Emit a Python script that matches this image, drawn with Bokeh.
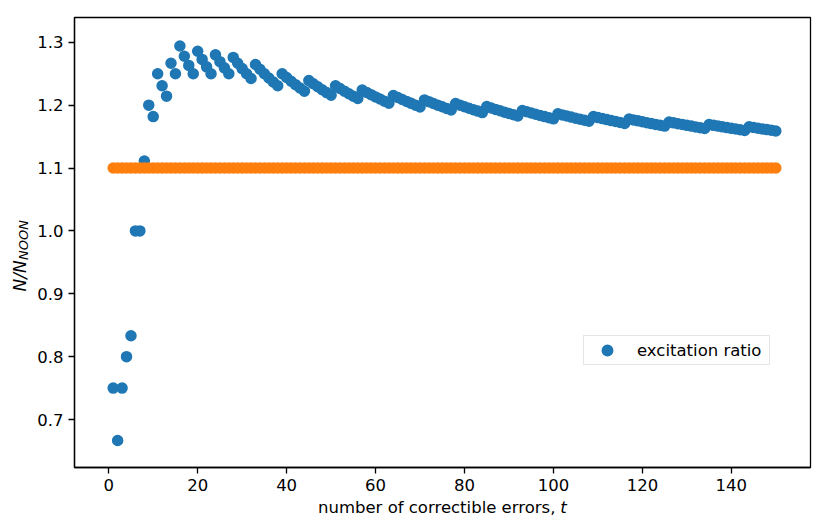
from bokeh.plotting import figure
from bokeh.layouts import row, column
from bokeh.models import (Label, Legend, LegendItem, FixedTicker, ColumnDataSource, Range1d)
from bokeh.embed import file_html
from bokeh.resources import INLINE

# ---------------- data ----------------
t_values = list(range(1, 151))
excitation_ratio = [
    0.75, 0.6667, 0.75, 0.8, 0.8333, 1.0, 1.0, 1.1111, 1.2, 1.1818,
    1.25, 1.2308, 1.2143, 1.2667, 1.25, 1.2941, 1.2778, 1.2632, 1.25, 1.2857,
    1.2727, 1.2609, 1.25, 1.28, 1.2692, 1.2593, 1.25, 1.2759, 1.2667, 1.2581,
    1.25, 1.2424, 1.2647, 1.2571, 1.25, 1.2432, 1.2368, 1.2308, 1.25, 1.2439,
    1.2381, 1.2326, 1.2273, 1.2222, 1.2391, 1.2340, 1.2292, 1.2245, 1.22, 1.2157,
    1.2308, 1.2264, 1.2222, 1.2182, 1.2143, 1.2105, 1.2241, 1.2203, 1.2167, 1.2131,
    1.2097, 1.2063, 1.2031, 1.2154, 1.2121, 1.2090, 1.2059, 1.2029, 1.2, 1.1972,
    1.2083, 1.2055, 1.2027, 1.2, 1.1974, 1.1948, 1.1923, 1.2025, 1.2, 1.1975,
    1.1951, 1.1928, 1.1905, 1.1882, 1.1977, 1.1954, 1.1932, 1.1910, 1.1889, 1.1868,
    1.1848, 1.1828, 1.1915, 1.1895, 1.1875, 1.1856, 1.1837, 1.1818, 1.18, 1.1782,
    1.1863, 1.1845, 1.1827, 1.1810, 1.1792, 1.1776, 1.1759, 1.1743, 1.1818, 1.1802,
    1.1786, 1.1770, 1.1754, 1.1739, 1.1724, 1.1709, 1.1780, 1.1765, 1.175, 1.1736,
    1.1721, 1.1707, 1.1694, 1.168, 1.1667, 1.1732, 1.1719, 1.1705, 1.1692, 1.1679,
    1.1667, 1.1654, 1.1642, 1.1630, 1.1691, 1.1679, 1.1667, 1.1655, 1.1643, 1.1631,
    1.1620, 1.1608, 1.1597, 1.1655, 1.1644, 1.1633, 1.1622, 1.1611, 1.16, 1.1589,
]
reference_ratio = [1.1] * 150

x_ticks = [0, 20, 40, 60, 80, 100, 120, 140]
y_ticks = [0.7, 0.8, 0.9, 1.0, 1.1, 1.2, 1.3]
y_tick_labels = ["0.7", "0.8", "0.9", "1.0", "1.1", "1.2", "1.3"]
legend_label = "excitation ratio"
xlabel_main = "number of correctible errors,"
xlabel_var = "t"
ylabel_main = "N/N"
ylabel_sub = "NOON"

# ---------------- layout sizes (px) ----------------
TOTAL_W, TOTAL_H = 815, 515
YLAB_W = 34
MAIN_W, MAIN_H = TOTAL_W - YLAB_W, 497
XLAB_H = TOTAL_H - MAIN_H

X0, X1 = -7.7, 157.8
Y0, Y1 = 0.6237, 1.3394
FONT = "DejaVu Sans"
FS = "16.5px"

# ---------------- main figure ----------------
p = figure(width=MAIN_W, height=MAIN_H, output_backend="svg", toolbar_location=None,
           x_range=Range1d(X0, X1), y_range=Range1d(Y0, Y1),
           min_border_left=73 - YLAB_W, min_border_right=5, min_border_top=17,
           min_border_bottom=MAIN_H - 467)
p.grid.visible = False
p.outline_line_color = "black"
p.outline_line_width = 1.3
p.outline_line_alpha = 1.0

p.xaxis.ticker = FixedTicker(ticks=x_ticks)
p.yaxis.ticker = FixedTicker(ticks=y_ticks)
p.yaxis.major_label_overrides = {v: s for v, s in zip(y_ticks, y_tick_labels)}
for ax in (p.xaxis, p.yaxis):
    ax.axis_line_color = "black"
    ax.axis_line_width = 1.3
    ax.major_tick_line_color = "black"
    ax.major_tick_line_width = 1.3
    ax.major_tick_in = 0
    ax.major_tick_out = 6
    ax.minor_tick_line_color = None
    ax.major_label_text_font = FONT
    ax.major_label_text_font_size = FS
    ax.major_label_text_color = "black"
    ax.major_label_standoff = 5
    ax.axis_label = None

src_b = ColumnDataSource(dict(t=t_values, r=excitation_ratio))
src_o = ColumnDataSource(dict(t=t_values, r=reference_ratio))
rb = p.scatter("t", "r", source=src_b, size=10, line_width=1.5, color="#1f77b4")
ro = p.scatter("t", "r", source=src_o, size=10, line_width=1.5, color="#ff7f0e")

legend = Legend(items=[LegendItem(label=legend_label, renderers=[rb])],
                location=(509, 102), padding=0, margin=0,
                glyph_width=46, glyph_height=26, label_height=28,
                label_standoff=7, label_width=132,
                border_line_color="#cccccc", border_line_width=1,
                background_fill_color="white", background_fill_alpha=0.8,
                label_text_font=FONT, label_text_font_size=FS,
                label_text_color="black")
p.add_layout(legend)


def blank(width, height, x_start, x_end, y_top, y_bottom):
    f = figure(width=width, height=height, output_backend="svg", toolbar_location=None,
               x_range=Range1d(x_start, x_end), y_range=Range1d(y_bottom, y_top),
               min_border=0, x_axis_location=None, y_axis_location=None)
    f.grid.visible = False
    f.outline_line_color = None
    return f


# y-axis label panel (coordinates = page pixels)
ylab = blank(YLAB_W, TOTAL_H, 0, YLAB_W, 0, TOTAL_H)
ylab.add_layout(Label(x=19.5, y=291, text=ylabel_main, angle=90, angle_units="deg",
                      text_align="left", text_baseline="alphabetic", text_font=FONT,
                      text_font_size="17px", text_font_style="italic", text_color="black"))
ylab.add_layout(Label(x=23, y=259.5, text=ylabel_sub, angle=90, angle_units="deg",
                      text_align="left", text_baseline="alphabetic", text_font=FONT,
                      text_font_size="13px", text_font_style="italic", text_color="black"))

# x-axis label panel (coordinates = page pixels)
xlab = blank(MAIN_W, XLAB_H, YLAB_W, TOTAL_W, MAIN_H, TOTAL_H)
xlab.add_layout(Label(x=544.3, y=506.5, text=xlabel_main, text_align="right",
                      text_baseline="middle", text_font=FONT, text_font_size=FS,
                      text_color="black"))
xlab.add_layout(Label(x=549.5, y=506.5, text=xlabel_var, text_align="left",
                      text_baseline="middle", text_font=FONT, text_font_size=FS,
                      text_font_style="italic", text_color="black"))

layout = row(ylab, column(p, xlab, spacing=0), spacing=0)
open("out.html", "w").write(file_html(layout, INLINE))
